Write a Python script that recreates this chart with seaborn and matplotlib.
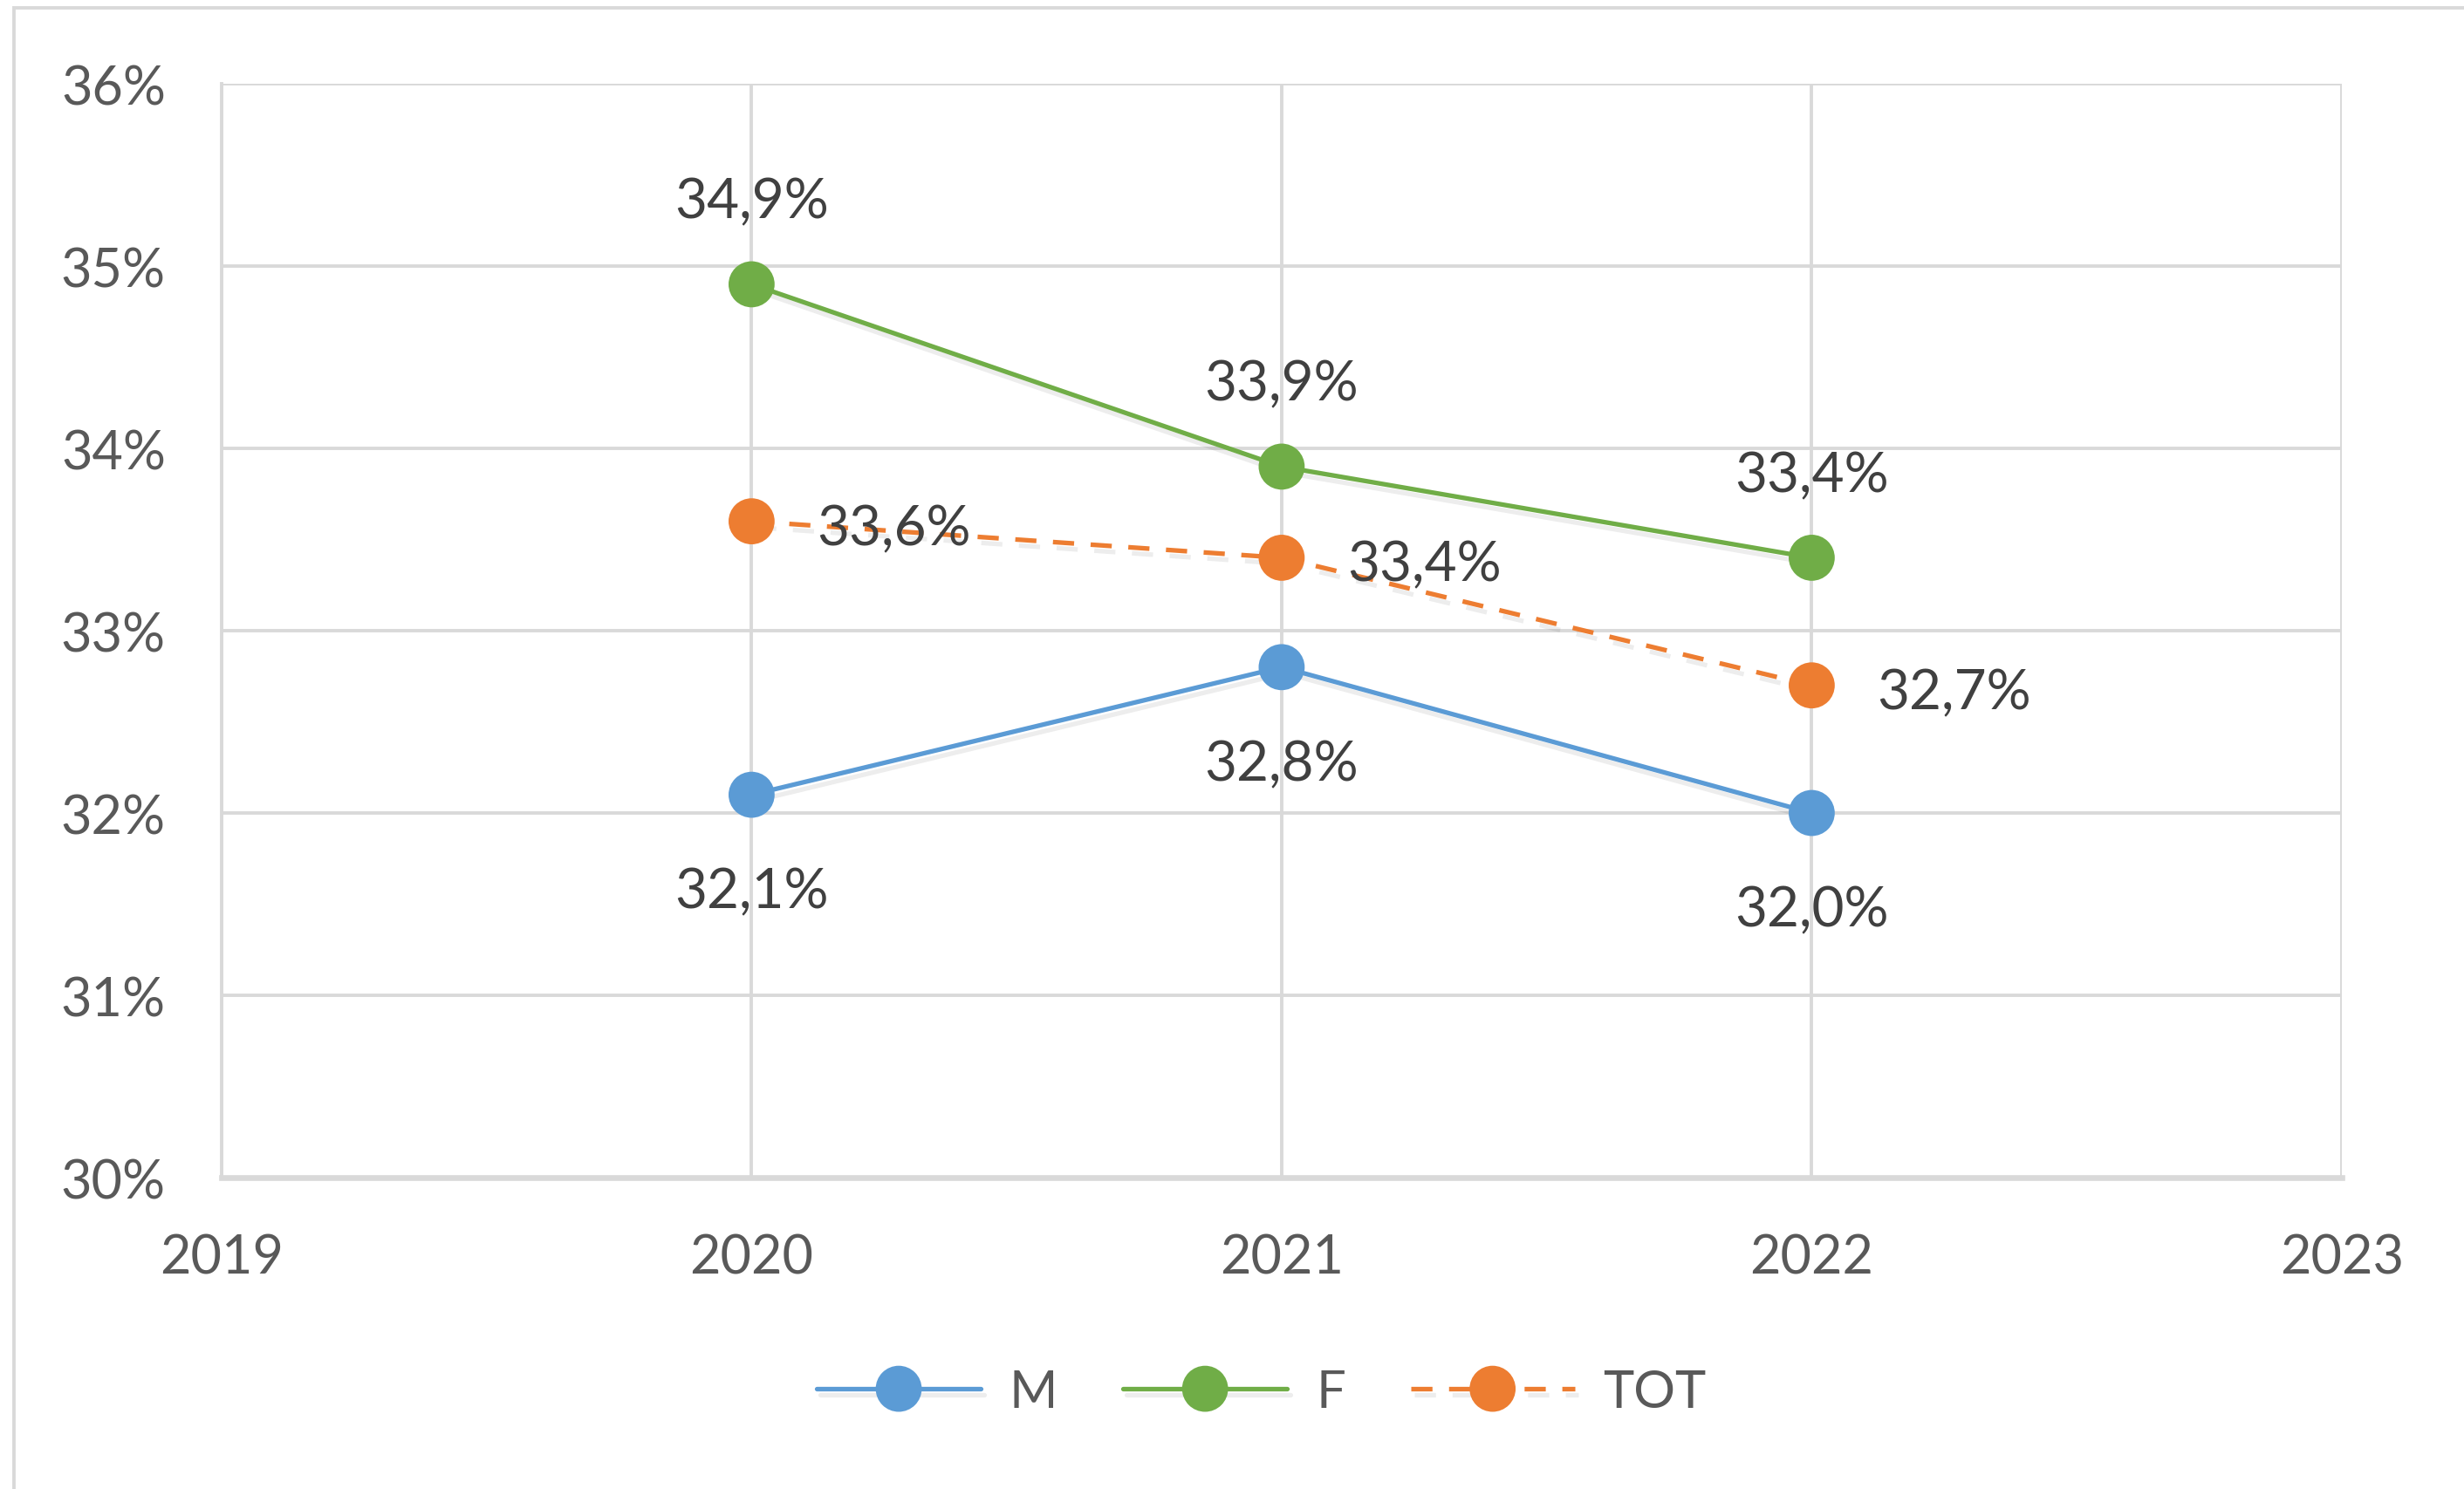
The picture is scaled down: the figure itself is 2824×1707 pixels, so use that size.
import matplotlib
matplotlib.use("Agg")
import matplotlib.pyplot as plt
import matplotlib.patheffects as pe
from matplotlib.patches import Rectangle
from matplotlib.ticker import FuncFormatter, MultipleLocator
import seaborn as sns
import pandas as pd

years = [2020, 2021, 2022]
m_vals = [32.1, 32.8, 32.0]
f_vals = [34.9, 33.9, 33.4]
tot_vals = [33.6, 33.4, 32.7]

series = ["M", "F", "TOT"]
colors = {"M": "#5B9BD5", "F": "#70AD47", "TOT": "#ED7D31"}
label_side = {"M": "below", "F": "above", "TOT": "right"}

df = pd.DataFrame({
    "year": years * 3,
    "value": m_vals + f_vals + tot_vals,
    "serie": ["M"] * 3 + ["F"] * 3 + ["TOT"] * 3,
})

sns.set_style("white")
plt.rcParams["font.family"] = ["Lato", "DejaVu Sans"]

fig = plt.figure(figsize=(14.12, 8.54), dpi=200)
ax = fig.add_axes([0.0899, 0.2090, 0.8605, 0.7342])

# light frame of the chart area
fig.patches.append(Rectangle((16 / 2824, -0.1), 1.2, 1.1 - 10 / 1708, transform=fig.transFigure,
                             fill=False, edgecolor="#D9D9D9", linewidth=1.4, zorder=0))

shadow = [pe.SimpleLineShadow(offset=(1.5, -2.5), shadow_color="black", alpha=0.07), pe.Normal()]

for s in series:
    sub = df[df["serie"] == s]
    sns.lineplot(data=sub, x="year", y="value", ax=ax, color=colors[s], linewidth=1.9,
                 marker="o", markersize=19, markeredgewidth=0, legend=False,
                 label=s, zorder=3)
    line = ax.lines[-1]
    if s == "TOT":
        line.set_dashes((4.6, 3.6))
    line.set_path_effects(shadow)
    for x, y in zip(sub["year"], sub["value"]):
        txt = f"{y:.1f}%".replace(".", ",")
        if label_side[s] == "above":
            ax.annotate(txt, (x, y), xytext=(0, 34), textcoords="offset points",
                        ha="center", va="center", fontsize=23, color="#404040", zorder=4)
        elif label_side[s] == "below":
            ax.annotate(txt, (x, y), xytext=(0, -40), textcoords="offset points",
                        ha="center", va="center", fontsize=23, color="#404040", zorder=4)
        else:
            ax.annotate(txt, (x, y), xytext=(27, -3), textcoords="offset points",
                        ha="left", va="center", fontsize=23, color="#404040", zorder=4)

ax.set_xlim(2019, 2023)
ax.set_ylim(30, 36)
ax.xaxis.set_major_locator(MultipleLocator(1))
ax.yaxis.set_major_locator(MultipleLocator(1))
ax.xaxis.set_major_formatter(FuncFormatter(lambda v, p: f"{int(v)}"))
ax.yaxis.set_major_formatter(FuncFormatter(lambda v, p: f"{int(round(v))}%"))
ax.set_xlabel("")
ax.set_ylabel("")

ax.grid(True, color="#D9D9D9", linewidth=1.4)
ax.set_axisbelow(True)
ax.tick_params(axis="both", length=0, labelsize=22, colors="#595959")
ax.tick_params(axis="x", pad=23)
ax.tick_params(axis="y", pad=23)
for side in ["top", "right"]:
    ax.spines[side].set_visible(False)
ax.spines["left"].set_color("#D9D9D9")
ax.spines["left"].set_linewidth(1.4)
ax.spines["bottom"].set_color("#D9D9D9")
ax.spines["bottom"].set_linewidth(2.4)

handles = ax.lines[:3]
leg = fig.legend(handles, series, loc="center", bbox_to_anchor=(0.512, 1 - 1597 / 1708),
                 ncol=3, frameon=False, fontsize=21.5, handlelength=3.15,
                 handletextpad=0.55, columnspacing=1.25, labelcolor="#595959")

fig.savefig("out.png", dpi=200, facecolor="white")
